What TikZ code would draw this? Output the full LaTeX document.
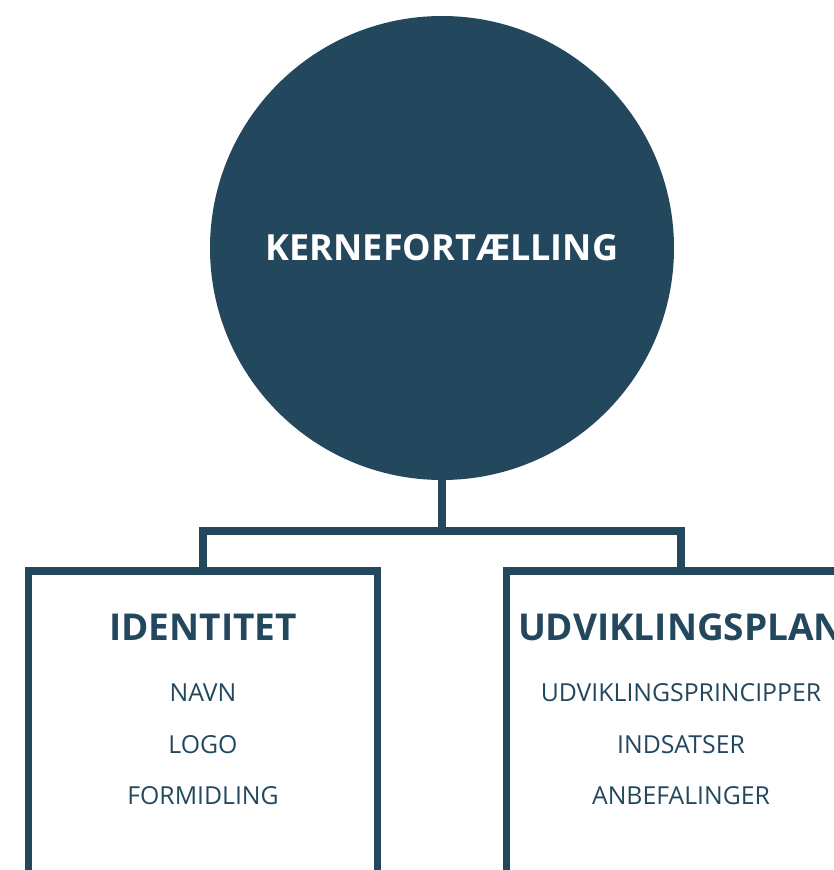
\documentclass[tikz,border=0pt]{standalone}
\usepackage{fontspec}
\setmainfont{Open Sans}
\usetikzlibrary{positioning}

\definecolor{petrol}{RGB}{35,72,94}

\begin{document}
\begin{tikzpicture}[x=1pt, y=-1pt, outer sep=0pt]

% --- Define Styles ---
\tikzset{
  core/.style={circle, fill=petrol, text=white, minimum size=464pt, inner sep=0pt,
    font=\fontsize{36}{44}\selectfont\bfseries},
  panel/.style={rectangle, draw=petrol, line width=7.5pt, minimum width=349pt, minimum height=420pt},
  paneltitle/.style={text=petrol, inner sep=0pt, font=\fontsize{37}{44}\selectfont\bfseries},
  item/.style={text=petrol, inner sep=0pt, font=\fontsize{24.8}{30}\selectfont},
  link/.style={draw=petrol, line width=7.5pt}
}

\useasboundingbox (0,0) rectangle (833,870);

% --- Nodes ---
\node (core) [core] at (442,248) {KERNEFORTÆLLING};
\coordinate[below=51pt of core] (split);

\node (idbox) [panel, below=91pt of core, xshift=-239pt] {};
\node (plbox) [panel, below=91pt of core, xshift=239pt] {};

\node (idtitle) [paneltitle] at ([yshift=-56pt]idbox.north) {IDENTITET};
\node (navn) [item] at ([yshift=-66pt]idtitle.center) {NAVN};
\node (logo) [item] at ([yshift=-118pt]idtitle.center) {LOGO};
\node (formidling) [item] at ([yshift=-169pt]idtitle.center) {FORMIDLING};

\node (pltitle) [paneltitle] at ([yshift=-56pt]plbox.north) {UDVIKLINGSPLAN};
\node (principper) [item] at ([yshift=-66pt]pltitle.center) {UDVIKLINGSPRINCIPPER};
\node (indsatser) [item] at ([yshift=-118pt]pltitle.center) {INDSATSER};
\node (anbefalinger) [item] at ([yshift=-169pt]pltitle.center) {ANBEFALINGER};

% --- Connectors ---
\draw [link] (core.south) -- (split);
\draw [link] (idbox.north) |- (split) -| (plbox.north);

\end{tikzpicture}
\end{document}
